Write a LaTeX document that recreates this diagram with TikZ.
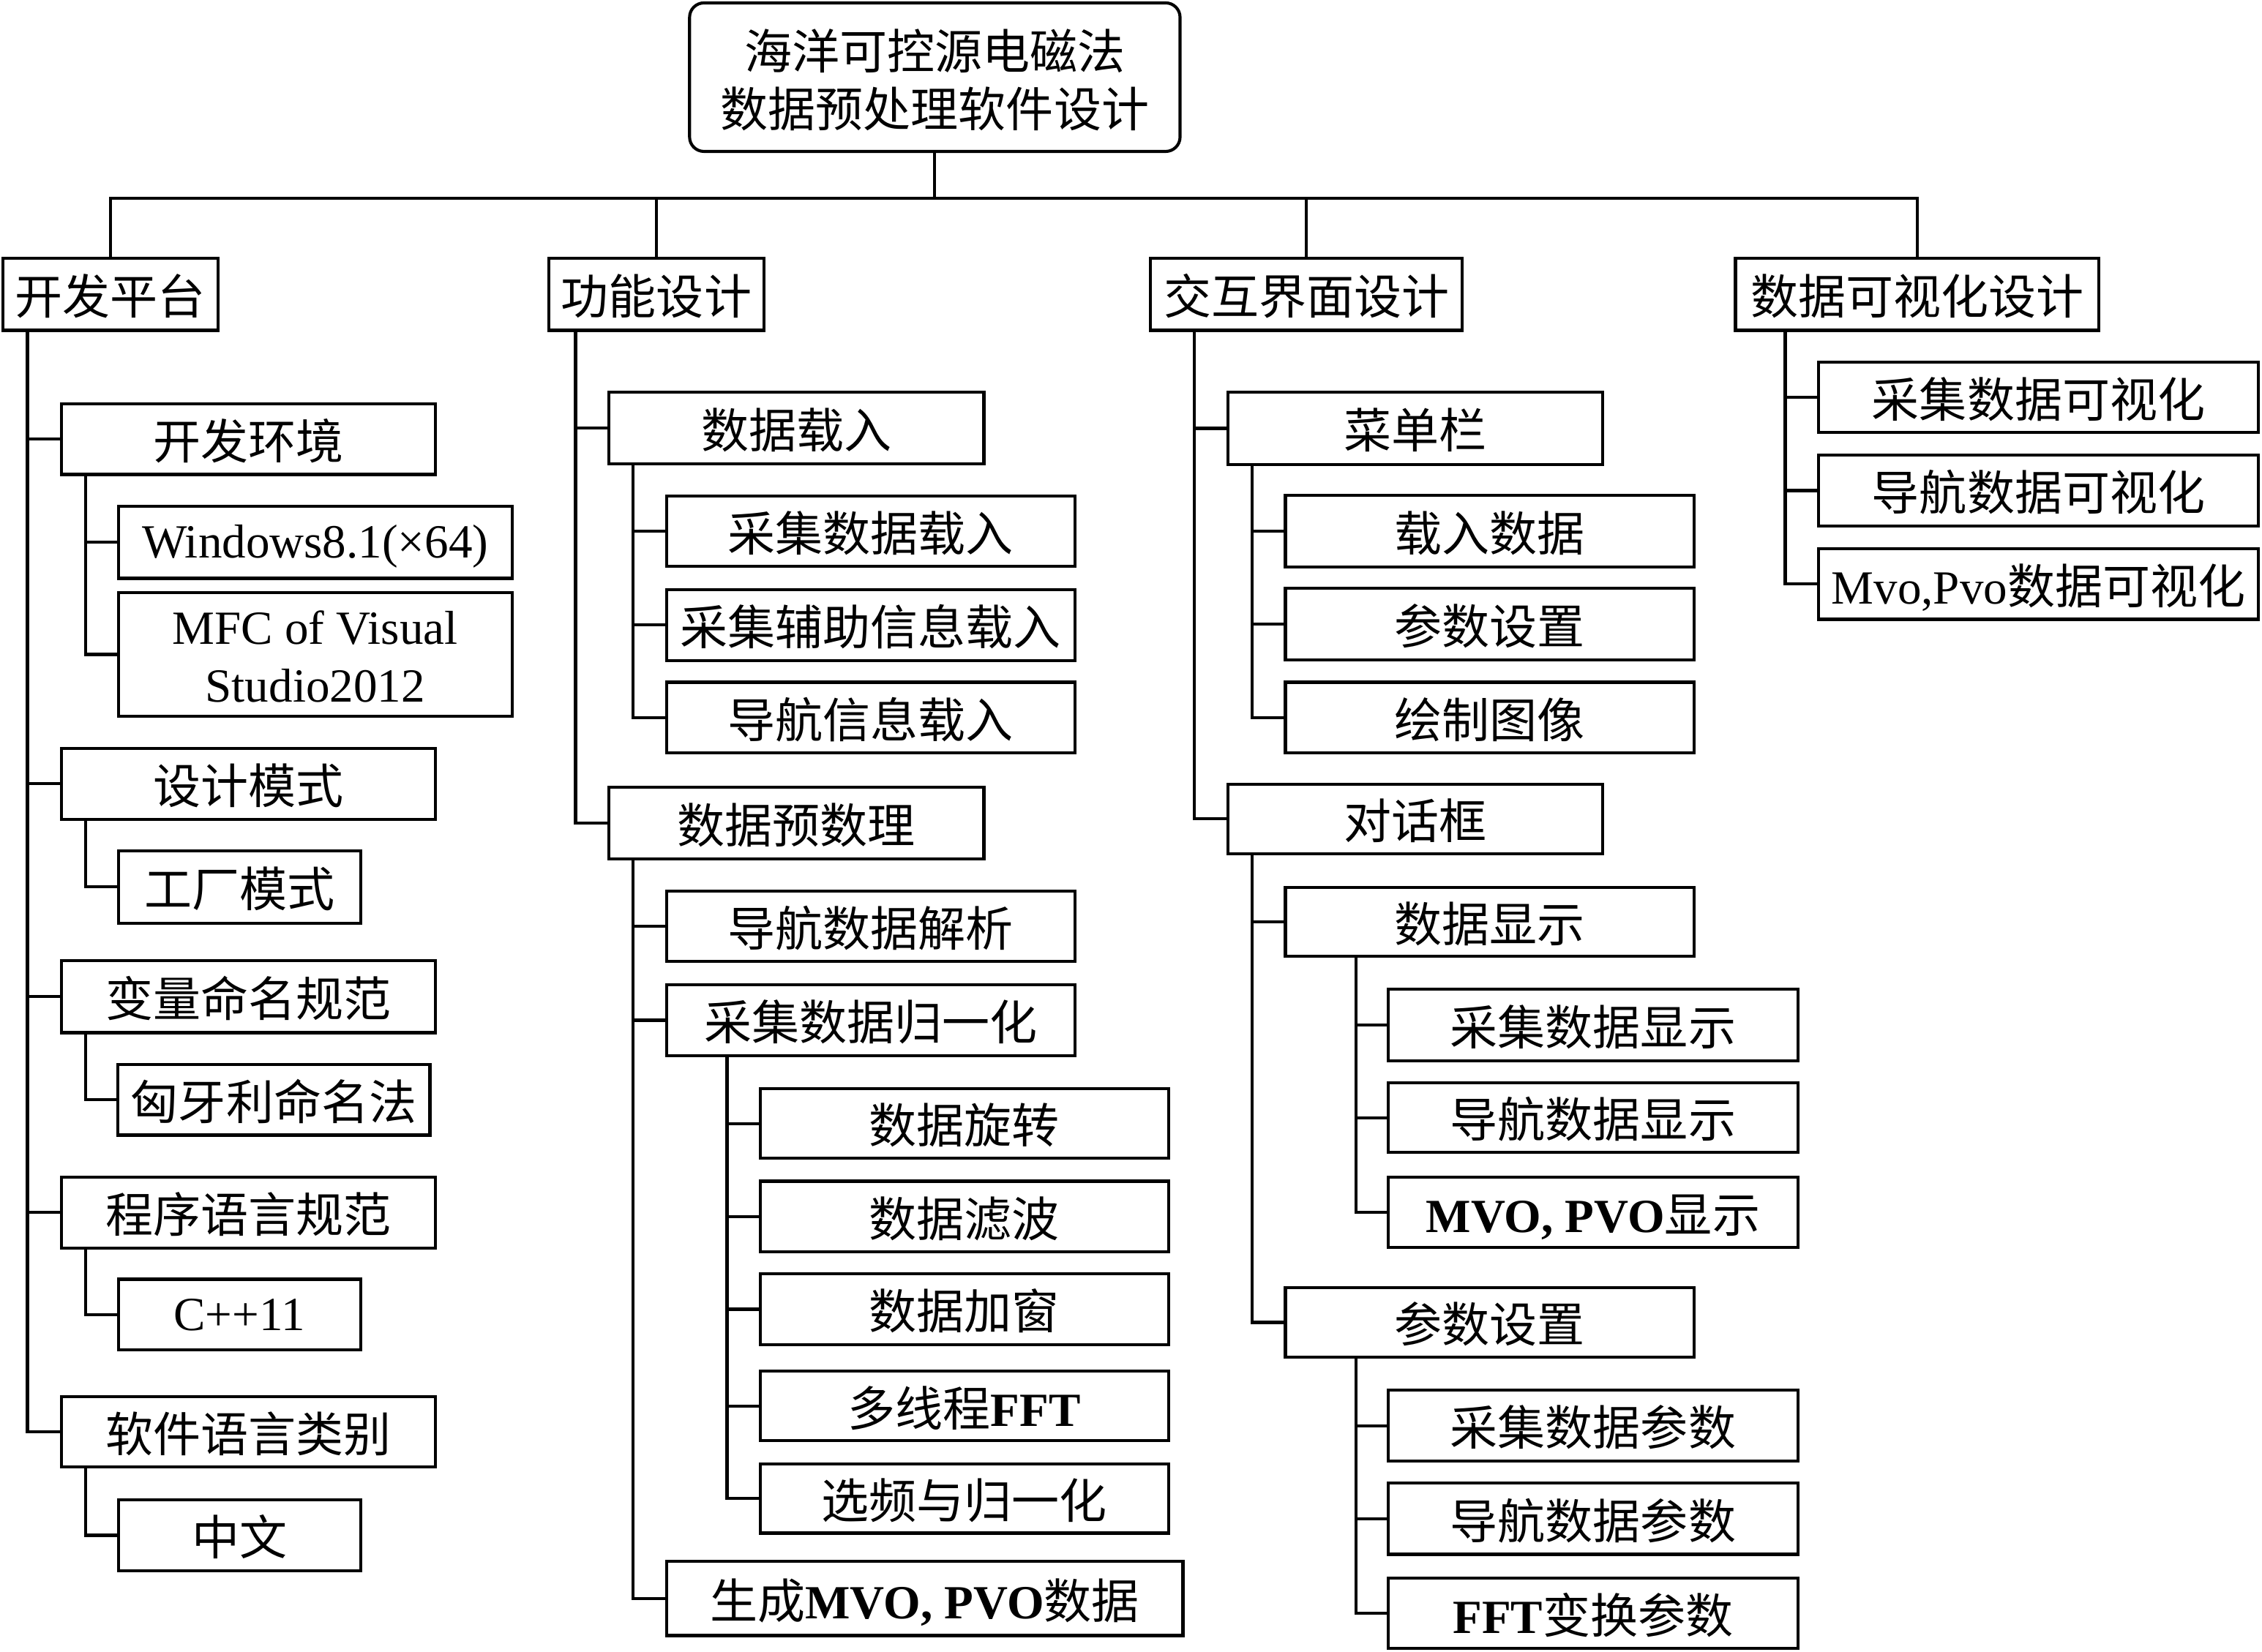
\documentclass[tikz,border=0pt]{standalone}
\usepackage{fontspec}
\setmainfont{Liberation Serif}
\newfontfamily\cjk{Noto Sans CJK SC}
\newcommand\lat[1]{{\rmfamily #1}}
\newcommand\latb[1]{{\rmfamily\bfseries #1}}
\newcommand\Bx[7][]{%
  \pgfmathsetmacro\bxw{(#5-#3-2)*0.5}%
  \pgfmathsetmacro\bxh{(#6-#4-2)*0.5}%
  \pgfmathsetmacro\bxx{(#3+#5)/2}%
  \pgfmathsetmacro\bxy{(#4+#6)/2}%
  \node[box,minimum width=\bxw pt,minimum height=\bxh pt,#1] (#2) at (\bxx,\bxy) {#7};}
\newcommand\Link[3]{\foreach \cc in {#3}{\draw[conn] (#1.south -| #2) |- (\cc.west);}}
\tikzset{
  box/.style={draw, line width=1.05pt, inner sep=0pt, outer sep=0pt,
    font=\fontsize{16.5}{20}\selectfont\cjk, text height=15.5pt, text depth=1.65pt},
  latbox/.style={text height=12.5pt},
  rootbox/.style={draw, line width=1.05pt, rounded corners=5pt, inner sep=0pt, outer sep=0pt,
    align=center, font=\fontsize{16.5}{20}\selectfont\cjk},
  conn/.style={line width=1.05pt, line join=miter}
}
\begin{document}
\begin{tikzpicture}[x=0.5pt,y=-0.5pt]
\useasboundingbox (0,0) rectangle (1568,1145.4);
% root
\node[rootbox, minimum width=170pt, minimum height=51.5pt] (root) at (648,53.5)
  {\rule{0pt}{16pt}海洋可控源电磁法\\数据预处理软件设计};
% level 1
\Bx{kfpt}{1}{178}{152}{230}{开发平台}
\Bx{gnsj}{379.4}{178}{530.6}{230}{功能设计}
\Bx{jhjm}{796.5}{178}{1014.7}{230}{交互界面设计}
\Bx{sjksh}{1202}{178}{1456}{230}{数据可视化设计}
% column 1
\Bx{kfhj}{41.4}{279}{303}{330}{开发环境}
\Bx[latbox]{win}{81}{350}{356}{402}{\lat{Windows8.1(×64)}}
\Bx[font=\fontsize{16.5}{20}\selectfont\rmfamily, align=center, text height=, text depth=]{mfc}{81}{410}{356}{497.5}{\rule{0pt}{13.3pt}MFC of Visual\\Studio2012}
\Bx{sjms}{41.4}{518}{303}{569}{设计模式}
\Bx{gcms}{81}{589}{251}{641}{工厂模式}
\Bx{blmm}{41.4}{665}{303}{717}{变量命名规范}
\Bx{xyl}{80.5}{737}{299}{788}{匈牙利命名法}
\Bx{cxyy}{41.4}{815}{303}{866.5}{程序语言规范}
\Bx[latbox]{cpp}{81}{886}{251}{937}{\lat{C++11}}
\Bx{rjyy}{41.4}{967.5}{303}{1018}{软件语言类别}
\Bx{zw}{81}{1039}{251}{1090}{中文}
% column 2
\Bx{sjzr}{421}{271}{683}{322.7}{数据载入}
\Bx{cja}{461}{343}{746}{393.7}{采集数据载入}
\Bx{cjb}{461}{407.7}{746}{459}{采集辅助信息载入}
\Bx{dha}{461}{472}{746}{523}{导航信息载入}
\Bx{sjyc}{421}{545}{683}{596.6}{数据预数理}
\Bx{dhjx}{461}{616.8}{746}{667.7}{导航数据解析}
\Bx{cjgy}{461}{681.8}{746}{733}{采集数据归一化}
\Bx{xz}{526}{754}{811}{804}{数据旋转}
\Bx{lb}{526}{818}{811}{869}{数据滤波}
\Bx{jc}{526}{882}{811}{933.5}{数据加窗}
\Bx{fft}{526}{949.7}{811}{1000}{多线程\latb{FFT}}
\Bx{xp}{526}{1014}{811}{1064}{选频与归一化}
\Bx{scmvo}{461}{1081.6}{821}{1135}{生成\latb{MVO, PVO}数据}
% column 3
\Bx{cdl}{850}{271}{1112}{323}{菜单栏}
\Bx{zrsj}{890}{342.5}{1175.5}{394.3}{载入数据}
\Bx{cssz}{890}{407}{1175.5}{458.5}{参数设置}
\Bx{hztx}{890}{472}{1175.5}{523}{绘制图像}
\Bx{dhk}{850}{542.7}{1112}{593}{对话框}
\Bx{sjxs}{890}{614.3}{1175.5}{664}{数据显示}
\Bx{cjxs}{961.3}{685}{1247.3}{736.4}{采集数据显示}
\Bx{dhxs}{961.3}{749.8}{1247.3}{800}{导航数据显示}
\Bx{mvoxs}{961.3}{815}{1247.3}{866}{\latb{MVO, PVO}显示}
\Bx{csszb}{890}{891.8}{1175.5}{942}{参数设置}
\Bx{cjcs}{961.3}{963}{1247.3}{1014}{采集数据参数}
\Bx{dhcs}{961.3}{1027.4}{1247.3}{1078.7}{导航数据参数}
\Bx{fftcs}{961.3}{1093}{1247.3}{1144}{\latb{FFT}变换参数}
% column 4
\Bx{va}{1259.6}{249.9}{1566.5}{300.8}{采集数据可视化}
\Bx{vb}{1259.6}{314.5}{1566.5}{365.8}{导航数据可视化}
\Bx{vc}{1259.6}{379.5}{1566.5}{430.4}{\lat{Mvo,Pvo}数据可视化}
% trunk x positions
\coordinate (bus) at (648,137.5);
\coordinate (ta) at (19,0);
\coordinate (tb) at (59.3,0);
\coordinate (tc) at (399,0);
\coordinate (td) at (439,0);
\coordinate (te) at (504,0);
\coordinate (tf) at (828,0);
\coordinate (tg) at (868,0);
\coordinate (th) at (940,0);
\coordinate (ti) at (1237.5,0);
% top connectors
\draw[conn] (root.south) -- (bus);
\draw[conn] (kfpt.north) |- (bus) -| (sjksh.north);
\draw[conn] (gnsj.north) -- (gnsj.north |- bus);
\draw[conn] (jhjm.north) -- (jhjm.north |- bus);
% tree connectors
\Link{kfpt}{ta}{kfhj,sjms,blmm,cxyy,rjyy}
\Link{kfhj}{tb}{win,mfc}
\Link{sjms}{tb}{gcms}
\Link{blmm}{tb}{xyl}
\Link{cxyy}{tb}{cpp}
\Link{rjyy}{tb}{zw}
\Link{gnsj}{tc}{sjzr,sjyc}
\Link{sjzr}{td}{cja,cjb,dha}
\Link{sjyc}{td}{dhjx,cjgy,scmvo}
\Link{cjgy}{te}{xz,lb,jc,fft,xp}
\Link{jhjm}{tf}{cdl,dhk}
\Link{cdl}{tg}{zrsj,cssz,hztx}
\Link{dhk}{tg}{sjxs,csszb}
\Link{sjxs}{th}{cjxs,dhxs,mvoxs}
\Link{csszb}{th}{cjcs,dhcs,fftcs}
\Link{sjksh}{ti}{va,vb,vc}
\end{tikzpicture}
\end{document}
